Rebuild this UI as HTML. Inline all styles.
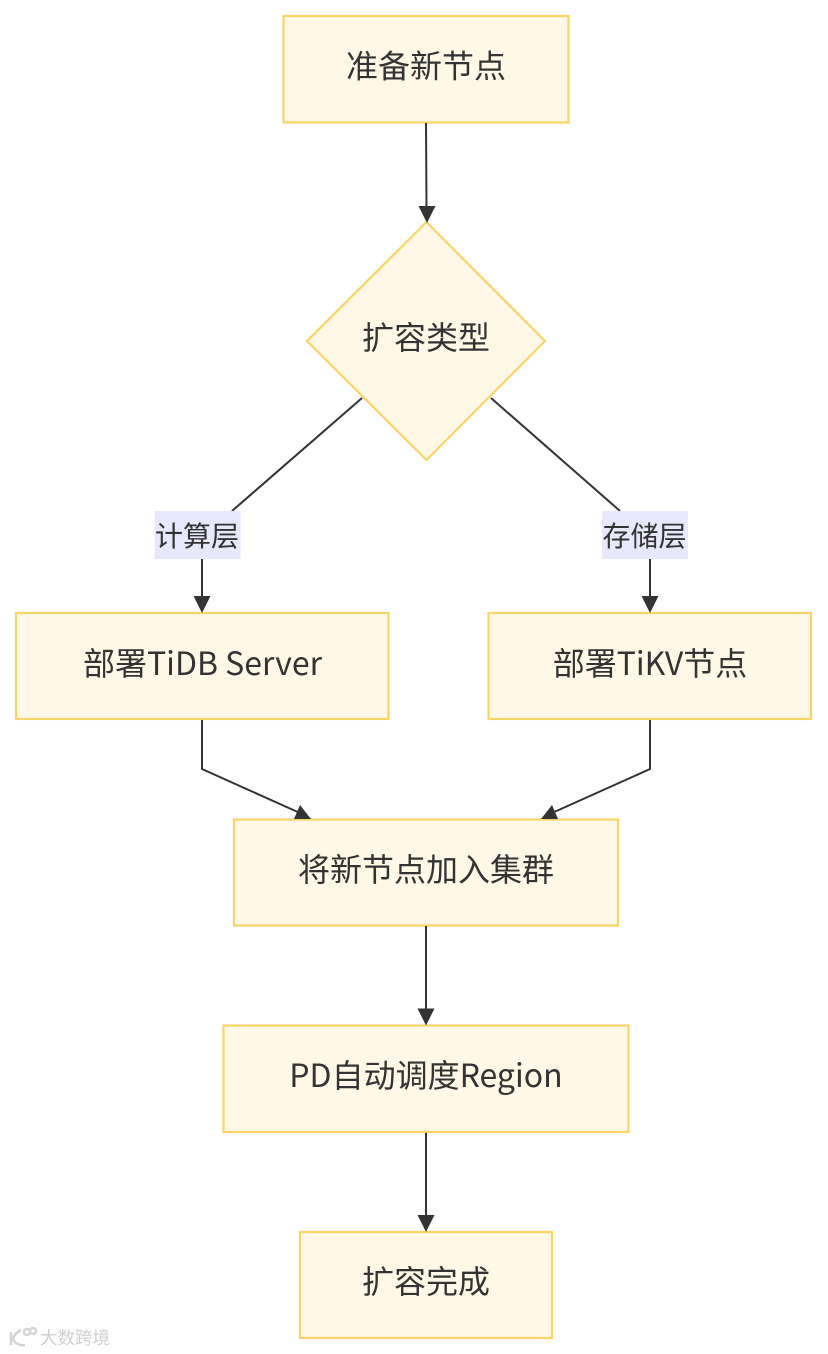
<!DOCTYPE html>
<html><head><meta charset="utf-8">
<style>
html,body{margin:0;padding:0;background:#fff}
body{width:828px;height:1354px;overflow:hidden}
svg{display:block}
text{font-family:"Noto Sans CJK SC","Liberation Sans",sans-serif;fill:#333}
.n{font-size:32px;text-anchor:middle;dominant-baseline:central}
.l{font-size:28px;text-anchor:middle;dominant-baseline:central}
.b{fill:#fff8e6;stroke:#fbd467;stroke-width:2.2}
.e{fill:none;stroke:#333;stroke-width:2}
.a{fill:#333}
</style></head><body>
<svg width="828" height="1354" viewBox="0 0 828 1354" xmlns="http://www.w3.org/2000/svg">
<rect class="b" x="283.500" y="16" width="285" height="106.500"/>
<polygon class="b" points="426.500,222 545,341 426.500,460 307,341"/>
<rect class="b" x="16" y="613" width="372.500" height="106"/>
<rect class="b" x="488.500" y="613" width="322.500" height="106"/>
<rect class="b" x="234" y="819.500" width="384" height="106"/>
<rect class="b" x="223.500" y="1025.500" width="405" height="106.500"/>
<rect class="b" x="300" y="1232" width="252" height="106"/>

<path class="e" d="M426 123L426.500 208"/>
<polygon class="a" points="418.500,206 435.500,206 427,223"/>
<path class="e" d="M362 398L232 511"/>
<path class="e" d="M491 398L620 511"/>
<rect x="154.500" y="511" width="86" height="48" fill="#e8e8fd"/>
<rect x="602" y="511" width="86" height="48" fill="#e8e8fd"/>
<path class="e" d="M202 559V598"/>
<polygon class="a" points="193.500,596 210.500,596 202,613"/>
<path class="e" d="M650 559V598"/>
<polygon class="a" points="641.500,596 658.500,596 650,613"/>
<path class="e" d="M202 720V769L300 813"/>
<polygon class="a" points="294,819 311,819 300,805"/>
<path class="e" d="M650 720V769L552 813"/>
<polygon class="a" points="541,819 558,819 552,805"/>
<path class="e" d="M426 926V1012"/>
<polygon class="a" points="417.500,1008.500 434.500,1008.500 426,1025.500"/>
<path class="e" d="M426 1133V1218"/>
<polygon class="a" points="417.500,1215 434.500,1215 426,1232"/>

<text class="n" x="426" y="64.500">准备新节点</text>
<text class="n" x="426" y="336">扩容类型</text>
<text class="l" x="197" y="535">计算层</text>
<text class="l" x="644.500" y="535">存储层</text>
<text class="n" x="202.500" y="662">部署TiDB Server</text>
<text class="n" x="650" y="662">部署TiKV节点</text>
<text class="n" x="426" y="868">将新节点加入集群</text>
<text class="n" x="426" y="1074">PD自动调度Region</text>
<text class="n" x="426" y="1280">扩容完成</text>

<g fill="none" stroke="#d4d4d4" stroke-width="2.500">
<path d="M11 1332V1345M21 1330C16 1333 13 1336 13 1339C14 1343 20 1346 25 1345"/>
<circle cx="27" cy="1332" r="3"/>
<circle cx="33" cy="1331" r="3"/>
</g>
<text x="40" y="1344" style="font-size:17.500px;fill:#cfcfcf">大数跨境</text>
</svg>
</body></html>
